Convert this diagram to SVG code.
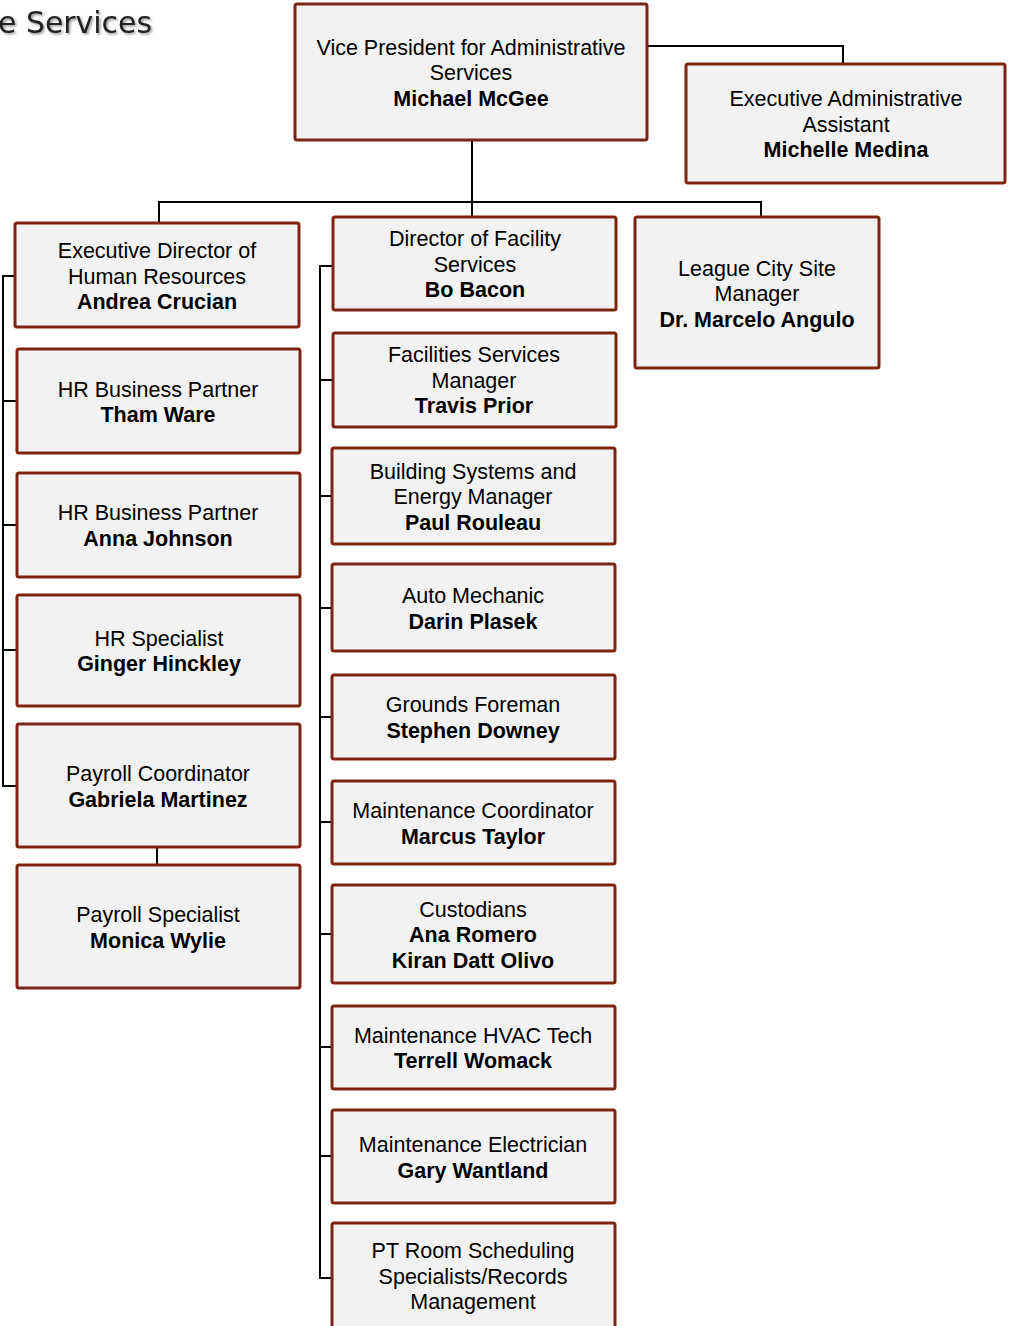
<svg xmlns="http://www.w3.org/2000/svg" width="1009" height="1326" viewBox="0 0 1009 1326">
<defs>
<style>
.box{fill:#f2f2f2;stroke:#7f2410;stroke-width:3}
.t{font-family:"Liberation Sans",Arial,sans-serif;font-size:21.5px;fill:#000;text-anchor:middle}
.b{font-weight:bold}
.c{fill:none;stroke:#000;stroke-width:2}
.title{font-family:"DejaVu Sans","Liberation Sans",sans-serif;font-size:30px;fill:#222}
</style>
<filter id="sh" x="-10%" y="-20%" width="130%" height="160%"><feDropShadow dx="1.5" dy="1.5" stdDeviation="1.2" flood-color="#666" flood-opacity="0.7"/></filter>
</defs>
<rect width="1009" height="1326" fill="#fff"/>
<text class="title" x="-2" y="33" textLength="154" lengthAdjust="spacingAndGlyphs" filter="url(#sh)">e Services</text>
<g id="connectors">
<path class="c" d="M647 46H843V64"/>
<path class="c" d="M472 140V216"/>
<path class="c" d="M159 223V202H761V217"/>
<path class="c" d="M15 276H3V786H17"/>
<path class="c" d="M3 401H17M3 525H17M3 650H17"/>
<path class="c" d="M157 847V865"/>
<path class="c" d="M332 266H320V1278H332"/>
<path class="c" d="M320 380H332M320 496H332M320 608H332M320 717H332M320 822H332M320 934H332M320 1047H332M320 1156H332"/>
</g>
<g id="vp"><rect class="box" x="295" y="4" width="352" height="136" rx="2"/>
<text class="t" x="471" y="55">Vice President for Administrative</text><text class="t" x="471" y="80">Services</text><text class="t b" x="471" y="106">Michael McGee</text></g>
<g id="ea"><rect class="box" x="686" y="64" width="319" height="119" rx="2"/>
<text class="t" x="846" y="106">Executive Administrative</text><text class="t" x="846" y="132">Assistant</text><text class="t b" x="846" y="157">Michelle Medina</text></g>
<g id="exechr"><rect class="box" x="15" y="223" width="284" height="104" rx="2"/>
<text class="t" x="157" y="258">Executive Director of</text><text class="t" x="157" y="284">Human Resources</text><text class="t b" x="157" y="309">Andrea Crucian</text></g>
<g id="dirfac"><rect class="box" x="333" y="217" width="283" height="93" rx="2"/>
<text class="t" x="475" y="246">Director of Facility</text><text class="t" x="475" y="272">Services</text><text class="t b" x="475" y="297">Bo Bacon</text></g>
<g id="league"><rect class="box" x="635" y="217" width="244" height="151" rx="2"/>
<text class="t" x="757" y="276">League City Site</text><text class="t" x="757" y="301">Manager</text><text class="t b" x="757" y="327">Dr. Marcelo Angulo</text></g>
<g id="tham"><rect class="box" x="17" y="349" width="283" height="104" rx="2"/>
<text class="t" x="158" y="397">HR Business Partner</text><text class="t b" x="158" y="422">Tham Ware</text></g>
<g id="anna"><rect class="box" x="17" y="473" width="283" height="104" rx="2"/>
<text class="t" x="158" y="520">HR Business Partner</text><text class="t b" x="158" y="546">Anna Johnson</text></g>
<g id="ginger"><rect class="box" x="17" y="595" width="283" height="111" rx="2"/>
<text class="t" x="159" y="646">HR Specialist</text><text class="t b" x="159" y="671">Ginger Hinckley</text></g>
<g id="gabriela"><rect class="box" x="17" y="724" width="283" height="123" rx="2"/>
<text class="t" x="158" y="781">Payroll Coordinator</text><text class="t b" x="158" y="807">Gabriela Martinez</text></g>
<g id="monica"><rect class="box" x="17" y="865" width="283" height="123" rx="2"/>
<text class="t" x="158" y="922">Payroll Specialist</text><text class="t b" x="158" y="948">Monica Wylie</text></g>
<g id="travis"><rect class="box" x="333" y="333" width="283" height="94" rx="2"/>
<text class="t" x="474" y="362">Facilities Services</text><text class="t" x="474" y="388">Manager</text><text class="t b" x="474" y="413">Travis Prior</text></g>
<g id="paul"><rect class="box" x="332" y="448" width="283" height="96" rx="2"/>
<text class="t" x="473" y="479">Building Systems and</text><text class="t" x="473" y="504">Energy Manager</text><text class="t b" x="473" y="530">Paul Rouleau</text></g>
<g id="darin"><rect class="box" x="332" y="564" width="283" height="87" rx="2"/>
<text class="t" x="473" y="603">Auto Mechanic</text><text class="t b" x="473" y="629">Darin Plasek</text></g>
<g id="stephen"><rect class="box" x="332" y="675" width="283" height="84" rx="2"/>
<text class="t" x="473" y="712">Grounds Foreman</text><text class="t b" x="473" y="738">Stephen Downey</text></g>
<g id="marcus"><rect class="box" x="332" y="781" width="283" height="83" rx="2"/>
<text class="t" x="473" y="818">Maintenance Coordinator</text><text class="t b" x="473" y="844">Marcus Taylor</text></g>
<g id="custodians"><rect class="box" x="332" y="885" width="283" height="98" rx="2"/>
<text class="t" x="473" y="917">Custodians</text><text class="t b" x="473" y="942">Ana Romero</text><text class="t b" x="473" y="968">Kiran Datt Olivo</text></g>
<g id="terrell"><rect class="box" x="332" y="1006" width="283" height="83" rx="2"/>
<text class="t" x="473" y="1043">Maintenance HVAC Tech</text><text class="t b" x="473" y="1068">Terrell Womack</text></g>
<g id="gary"><rect class="box" x="332" y="1110" width="283" height="93" rx="2"/>
<text class="t" x="473" y="1152">Maintenance Electrician</text><text class="t b" x="473" y="1178">Gary Wantland</text></g>
<g id="ptroom"><rect class="box" x="332" y="1223" width="283" height="115" rx="2"/>
<text class="t" x="473" y="1258">PT Room Scheduling</text><text class="t" x="473" y="1284">Specialists/Records</text><text class="t" x="473" y="1309">Management</text></g>
</svg>
